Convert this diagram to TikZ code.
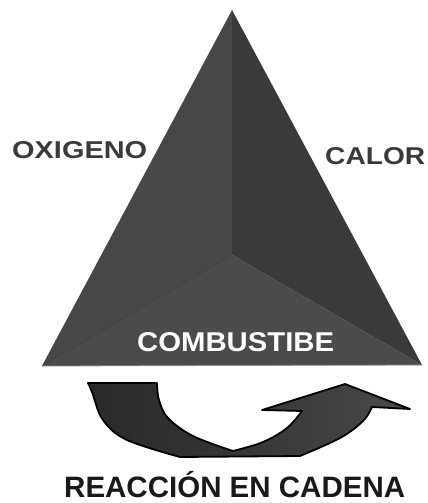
\documentclass[tikz,border=0pt]{standalone}
\usepackage{fontspec}
\setmainfont{Liberation Sans}
\usetikzlibrary{shadings}
\definecolor{faceL}{HTML}{474747}
\definecolor{faceR}{HTML}{3A3A3A}
\definecolor{faceB}{HTML}{4B4B4B}
\definecolor{labelgray}{HTML}{3A3A3A}
\definecolor{arrowL}{HTML}{2A2A2A}
\definecolor{arrowR}{HTML}{4A4A4A}
\tikzset{
  sidelabel/.style={anchor=base west, text=labelgray, inner sep=0pt, font=\fontsize{23}{23}\selectfont\bfseries},
  facelabel/.style={anchor=base west, text=white, inner sep=0pt, font=\fontsize{25}{25}\selectfont\bfseries},
  titlelabel/.style={anchor=base west, text=black!90, inner sep=0pt, font=\fontsize{29.5}{29.5}\selectfont\bfseries},
}
\begin{document}
\begin{tikzpicture}[x=1pt,y=-1pt]
\useasboundingbox (0,0) rectangle (428,503);
\coordinate (apex) at (232,10);
\coordinate (bl) at (42,366);
\coordinate (br) at (422,365);
\coordinate (mid) at (232,255);
% faces
\fill[faceL] (apex) -- (bl) -- (mid) -- cycle;
\fill[faceR] (apex) -- (mid) -- (br) -- cycle;
\fill[faceB] (bl) -- (br) -- (mid) -- cycle;
\draw[faceR!80!faceL, line width=0.6pt] (bl) -- (mid);
\draw[black!45, line width=0.8pt] (bl) -- (br);
% labels
\node[sidelabel] (oxi) at (12,158) {\resizebox{135pt}{17pt}{OXIGENO}};
\node[sidelabel] (cal) at (325,164) {\resizebox{100pt}{17pt}{CALOR}};
\node[facelabel] (comb) at (137,351) {\resizebox{197pt}{19pt}{COMBUSTIBE}};
\node[titlelabel] (rea) at (64,497) {\resizebox{341pt}{!}{REACCIÓN EN CADENA}};
% arrow
\shadedraw[left color=arrowL, right color=arrowR, middle color=arrowL!60!arrowR, draw=black, line width=1.8pt, line join=round]
  (88,383) -- (157,383)
  -- plot[smooth, tension=0.6] coordinates {(157,384) (159,400) (168,418) (193,436) (233,451)}
  -- plot[smooth, tension=0.6] coordinates {(233,451) (263,442) (287,428) (302,411)}
  -- (262,410) -- (345,384) -- (410,409)
  -- plot[smooth, tension=0.6] coordinates {(372,407) (363,421) (340,438) (300,456)}
  -- (180,457)
  -- plot[smooth, tension=0.6] coordinates {(180,457) (127,440) (103,420) (92,392) (88,383)}
  -- cycle;
\end{tikzpicture}
\end{document}
